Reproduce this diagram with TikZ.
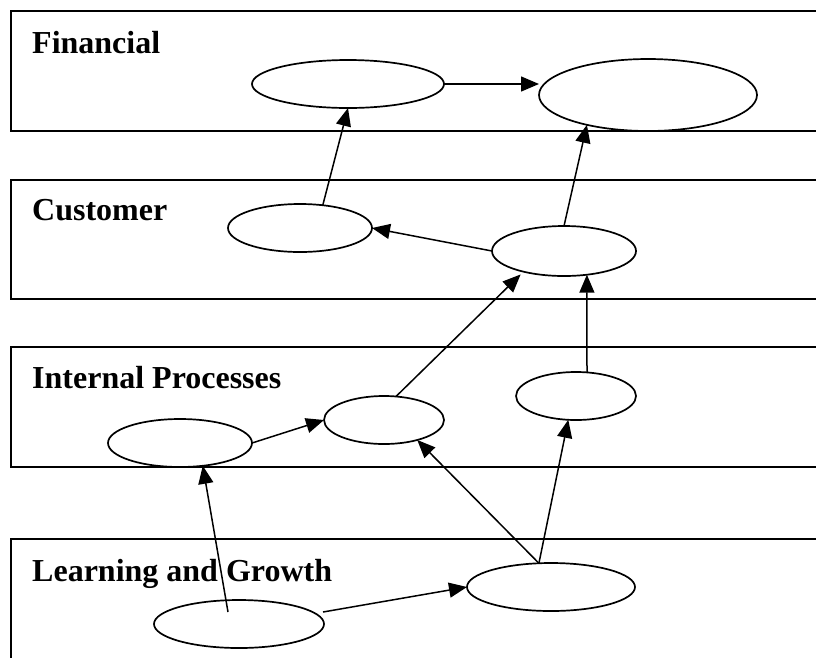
\documentclass[tikz,border=0pt]{standalone}
\usepackage{fontspec}
\setmainfont{Liberation Serif}
\usetikzlibrary{arrows.meta,shapes.geometric,calc}
\begin{document}
\begin{tikzpicture}[x=1pt,y=-1pt,
  frame/.style={line width=2pt},
  oval/.style={draw,ellipse,line width=1.7pt,inner sep=0pt,outer sep=0pt},
  lbl/.style={anchor=base west,inner sep=0pt,font=\fontsize{32}{36}\selectfont\bfseries},
  arr/.style={line width=1.5pt,-{Triangle[length=18pt,width=15pt]}}]
\useasboundingbox (0,0) rectangle (816,657);
\clip (0,0) rectangle (816,657);
% perspective frames (open to the right)
\draw[frame] (840,11) -- (11,11) -- (11,131) -- (840,131);
\draw[frame] (840,180) -- (11,180) -- (11,299) -- (840,299);
\draw[frame] (840,347) -- (11,347) -- (11,467) -- (840,467);
\draw[frame] (840,539) -- (11,539) -- (11,700);
% labels
\node[lbl] (tF) at (32,53) {Financial};
\node[lbl] (tC) at (32,220) {Customer};
\node[lbl] (tI) at (32,388) {Internal Processes};
\node[lbl] (tL) at (32,581) {Learning and Growth};
% ellipses
\node[oval,minimum width=192pt,minimum height=48pt] (F1) at (348,84) {};
\node[oval,minimum width=218pt,minimum height=72pt] (F2) at (648,95) {};
\node[oval,minimum width=144pt,minimum height=48pt] (C1) at (300,228) {};
\node[oval,minimum width=144pt,minimum height=50pt] (C2) at (564,251) {};
\node[oval,minimum width=144pt,minimum height=48pt] (I1) at (180,443) {};
\node[oval,minimum width=120pt,minimum height=48pt] (I2) at (384,420) {};
\node[oval,minimum width=120pt,minimum height=48pt] (I3) at (576,396) {};
\node[oval,minimum width=170pt,minimum height=48pt] (L1) at (239,624) {};
\node[oval,minimum width=168pt,minimum height=48pt] (L2) at (551,587) {};
% arrows
\draw[arr] (F1.east) -- (F1.east -| F2.west);
\draw[arr] (C1.45) -- (F1.south);
\draw[arr] (C2.north) -- (F2.206);
\draw[arr] (C2.west) -- (C1.east);
\draw[arr] (I1.east) -- (I2.west);
\draw[arr,shorten >=4pt] (I2.63) -- (C2.207);
\draw[arr] (I3.65) -- (C2.314);
\draw[arr] ($(L1.center)+(-11,-12)$) -- (I1.315);
\draw[arr] ($(L1.center)+(84,-12)$) -- (L2.west);
\draw[arr] (L2.117) -- (I2.329);
\draw[arr] (L2.117) -- (I3.252);
\end{tikzpicture}
\end{document}
